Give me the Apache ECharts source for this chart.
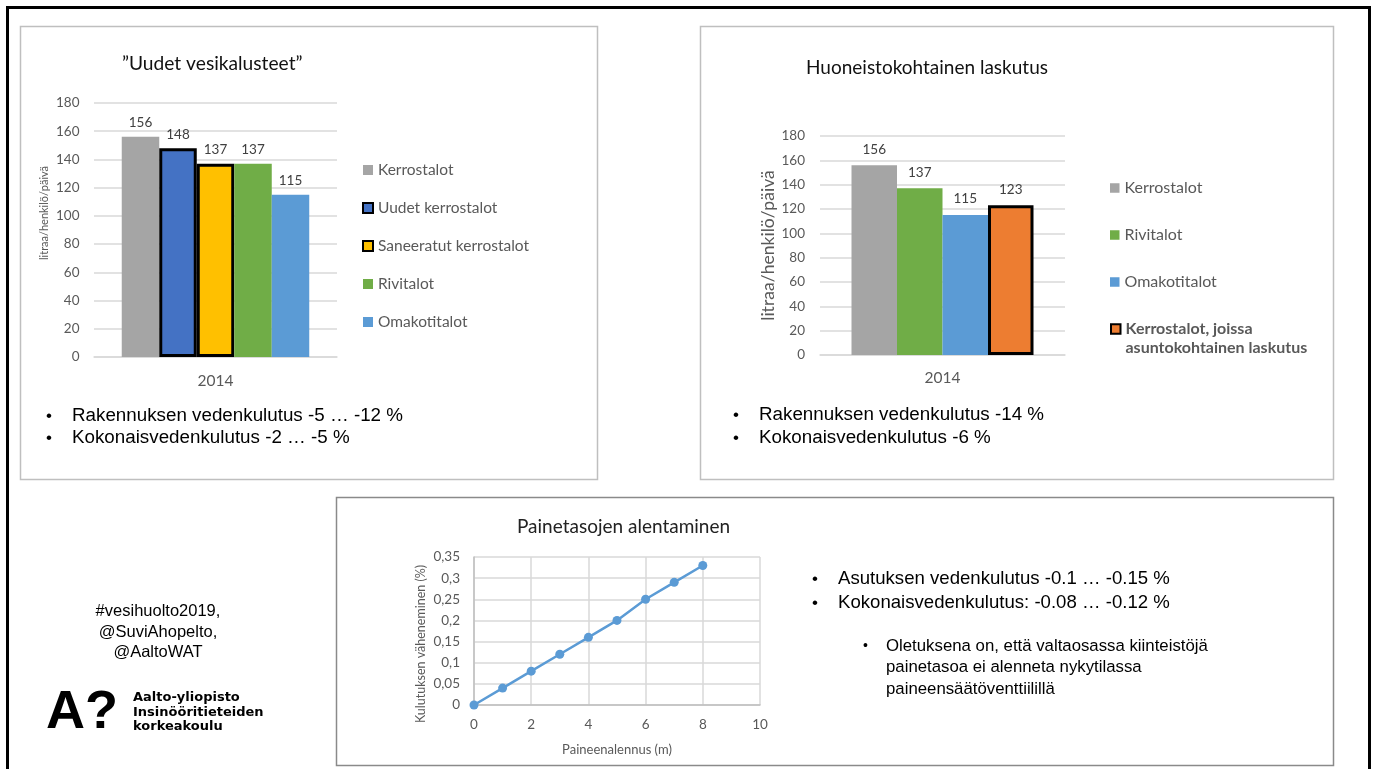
<!DOCTYPE html>
<html>
<head>
<meta charset="utf-8">
<title>Vedenkulutus</title>
<script src="https://cdn.jsdelivr.net/npm/echarts@6/dist/echarts.min.js"></script>
<style>
  html, body { margin: 0; padding: 0; background: #fff; }
  #main { width: 1375px; height: 769px; }
</style>
</head>
<body>
<div id="main"></div>
<script>
// --- Data -------------------------------------------------------------
// Chart 1: "Uudet vesikalusteet" (litraa/henkilö/päivä, 2014)
const fixtureYears = ['2014'];
const fixtureNames = ['Kerrostalot', 'Uudet kerrostalot', 'Saneeratut kerrostalot', 'Rivitalot', 'Omakotitalot'];
const fixtureValues = [156, 148, 137, 137, 115];

// Chart 2: Huoneistokohtainen laskutus
const billingYears = ['2014'];
const billingNames = ['Kerrostalot', 'Rivitalot', 'Omakotitalot', 'Kerrostalot, joissa asuntokohtainen laskutus'];
const billingValues = [156, 137, 115, 123];

// Chart 3: Painetasojen alentaminen
const pressureDrop = [0, 1, 2, 3, 4, 5, 6, 7, 8];            // m
const consumptionDecrease = [0, 0.04, 0.08, 0.12, 0.16, 0.2, 0.25, 0.29, 0.33]; // %

// --- Styles -----------------------------------------------------------
const C = {
  gray: '#A5A5A5', blue: '#4472C4', gold: '#FFC000',
  green: '#70AD47', sky: '#5B9BD5', orange: '#ED7D31'
};
const fixtureColors = [C.gray, C.blue, C.gold, C.green, C.sky];
const fixtureBordered = [false, true, true, false, false];
const billingColors = [C.gray, C.green, C.sky, C.orange];
const billingBordered = [false, false, false, true];

const FONT = 'Lato';
const SANS = 'Liberation Sans, Arial';
const TXT = '#595959';
const GRID = '#d9d9d9';
const commaNum = v => String(+(+v).toFixed(2)).replace('.', ',');

function barSeries(names, values, colors, bordered, axisIdx, width, labelDist) {
  return names.map((n, i) => ({
    type: 'bar',
    name: n,
    xAxisIndex: axisIdx,
    yAxisIndex: axisIdx,
    barWidth: width,
    barGap: '0%',
    data: [values[i]],
    itemStyle: bordered[i]
      ? { color: colors[i], borderColor: '#000', borderWidth: 3 }
      : { color: colors[i] },
    label: {
      show: true, position: 'top', distance: labelDist,
      color: '#404040', fontFamily: FONT, fontSize: 13.5
    }
  }));
}

function legendItem(name, bordered, extraText) {
  const d = { name: name, icon: 'rect' };
  if (bordered) d.itemStyle = { borderColor: '#000', borderWidth: 2 };
  if (extraText) d.textStyle = extraText;
  return d;
}

const catAxis = (idx, data, margin) => ({
  type: 'category', gridIndex: idx, data: data,
  axisLine: { lineStyle: { color: GRID, width: 1.5 } },
  axisTick: { show: false },
  axisLabel: { color: TXT, fontFamily: FONT, fontSize: 15.5, margin: margin }
});

const valAxis = (idx, name, nameSize, nameGap, namePad, labelMargin) => ({
  type: 'value', gridIndex: idx, min: 0, max: 180, interval: 20,
  name: name, nameLocation: 'middle', nameGap: nameGap, nameRotate: 90,
  nameTextStyle: { color: TXT, fontFamily: FONT, fontSize: nameSize, padding: namePad },
  axisLine: { show: false }, axisTick: { show: false },
  splitLine: { lineStyle: { color: GRID, width: 1.5 } },
  axisLabel: { color: TXT, fontFamily: FONT, fontSize: 13.5, margin: labelMargin }
});

// --- Text blocks drawn as graphics ------------------------------------
function txt(x, y, text, size, style) {
  return {
    type: 'text', x: x, y: y, silent: true,
    style: Object.assign({
      text: text, fill: '#000', fontFamily: SANS,
      fontSize: size, textVerticalAlign: 'middle'
    }, style || {})
  };
}
function box(x, y, w, h, stroke, lw) {
  return { type: 'rect', silent: true, shape: { x: x, y: y, width: w, height: h },
           style: { fill: 'none', stroke: stroke, lineWidth: lw } };
}

const BUL = 18.8;
const graphics = [
  box(7.5, 7.5, 1362, 800, '#000', 3),
  box(20.5, 26.5, 577, 453, '#bfbfbf', 1.5),
  box(700.5, 26.5, 633, 453, '#bfbfbf', 1.5),
  box(336.5, 497.5, 997, 268, '#8a8a8a', 1.5),

  // bullet notes, chart 1
  txt(46, 416, '•', 17), txt(72, 416, 'Rakennuksen vedenkulutus -5 … -12 %', BUL),
  txt(46, 438, '•', 17), txt(72, 438, 'Kokonaisvedenkulutus -2 … -5 %', BUL),
  // bullet notes, chart 2
  txt(733, 415, '•', 17), txt(759, 415, 'Rakennuksen vedenkulutus -14 %', BUL),
  txt(733, 438, '•', 17), txt(759, 438, 'Kokonaisvedenkulutus -6 %', BUL),
  // notes next to chart 3
  txt(812, 579, '•', 17), txt(838, 579, 'Asutuksen vedenkulutus -0.1 … -0.15 %', 18.6),
  txt(812, 603, '•', 17), txt(838, 603, 'Kokonaisvedenkulutus: -0.08 … -0.12 %', 18.6),
  txt(863, 646, '•', 14), txt(886, 646, 'Oletuksena on, että valtaosassa kiinteistöjä', 16.8),
  txt(886, 667, 'painetasoa ei alenneta nykytilassa', 16.8),
  txt(886, 689, 'paineensäätöventtiilillä', 16.8),

  // hashtags
  txt(158, 611, '#vesihuolto2019,', 16.5, { textAlign: 'center' }),
  txt(158, 632, '@SuviAhopelto,', 16.5, { textAlign: 'center' }),
  txt(158, 652, '@AaltoWAT', 16.5, { textAlign: 'center' }),

  // university mark
  txt(46, 713, 'A?', 54, { fontWeight: 'bold' }),
  txt(133, 698, 'Aalto-yliopisto', 13, { fontWeight: 'bold', fontFamily: 'DejaVu Sans' }),
  txt(133, 713, 'Insinööritieteiden', 13, { fontWeight: 'bold', fontFamily: 'DejaVu Sans' }),
  txt(133, 727, 'korkeakoulu', 13, { fontWeight: 'bold', fontFamily: 'DejaVu Sans' })
];

// --- Option -----------------------------------------------------------
const legendText = { color: TXT, fontFamily: FONT, fontSize: 16, lineHeight: 19 };

const option = {
  backgroundColor: '#fff',
  animation: false,
  title: [
    { text: '”Uudet vesikalusteet”', left: 117, top: 49,
      textStyle: { fontFamily: FONT, fontSize: 19.2, fontWeight: 'normal', color: '#111' } },
    { text: 'Huoneistokohtainen laskutus', left: 801, top: 53,
      textStyle: { fontFamily: FONT, fontSize: 19, fontWeight: 'normal', color: '#111' } },
    { text: 'Painetasojen alentaminen', left: 512, top: 512,
      textStyle: { fontFamily: FONT, fontSize: 19, fontWeight: 'normal', color: '#222' } }
  ],
  legend: [
    { orient: 'vertical', left: 357, top: 156, itemWidth: 10, itemHeight: 10, itemGap: 20,
      data: fixtureNames.map((n, i) => legendItem(n, fixtureBordered[i])),
      textStyle: { color: TXT, fontFamily: FONT, fontSize: 15.5, lineHeight: 18 }, selectedMode: false },
    { orient: 'vertical', left: 1105, top: 173.5, itemWidth: 9.5, itemHeight: 9.5, itemGap: 28,
      data: billingNames.slice(0, 3).map((n, i) => legendItem(n, billingBordered[i])),
      textStyle: legendText, selectedMode: false },
    // two-line entry: the leading blank line keeps the icon level with the first text line
    { orient: 'vertical', left: 1105, top: 295.5, itemWidth: 9.5, itemHeight: 9.5,
      data: [legendItem(billingNames[3], true, { fontWeight: 'bold' })],
      formatter: () => ' \nKerrostalot, joissa\nasuntokohtainen laskutus',
      textStyle: legendText, selectedMode: false }
  ],
  grid: [
    { left: 94, top: 103, width: 243, height: 254 },
    { left: 820, top: 136, width: 245, height: 219 },
    { left: 474, top: 557, width: 286, height: 148 }
  ],
  xAxis: [
    catAxis(0, fixtureYears, 16),
    catAxis(1, billingYears, 15),
    { type: 'value', gridIndex: 2, min: 0, max: 10, interval: 2,
      name: 'Paineenalennus (m)', nameLocation: 'middle', nameGap: 38,
      nameTextStyle: { color: TXT, fontFamily: FONT, fontSize: 13 },
      axisLine: { show: true, lineStyle: { color: '#bfbfbf', width: 1.5 } },
      axisTick: { show: false },
      splitLine: { show: true, lineStyle: { color: GRID, width: 1.5 } },
      axisLabel: { color: TXT, fontFamily: FONT, fontSize: 13.5, margin: 13 } }
  ],
  yAxis: [
    valAxis(0, 'litraa/henkilö/päivä', 11, 44, [0, 0, 0, 34], 14.5),
    valAxis(1, 'litraa/henkilö/päivä', 17.6, 43, [0, 0, 0, 0], 15),
    { type: 'value', gridIndex: 2, min: 0, max: 0.35, interval: 0.05,
      name: 'Kulutuksen väheneminen (%)', nameLocation: 'middle', nameGap: 47, nameRotate: 90,
      nameTextStyle: { color: TXT, fontFamily: FONT, fontSize: 12.5, padding: [0, 26, 0, 0] },
      axisLine: { show: true, lineStyle: { color: '#bfbfbf', width: 1.5 } },
      axisTick: { show: false },
      splitLine: { show: true, lineStyle: { color: GRID, width: 1.5 } },
      axisLabel: { color: TXT, fontFamily: FONT, fontSize: 13.5, margin: 14, formatter: commaNum } }
  ],
  series: [
    ...barSeries(fixtureNames, fixtureValues, fixtureColors, fixtureBordered, 0, 37.5, 7),
    ...barSeries(billingNames, billingValues, billingColors, billingBordered, 1, 45.5, 9),
    { type: 'line', name: 'Kulutuksen väheneminen', xAxisIndex: 2, yAxisIndex: 2,
      data: pressureDrop.map((x, i) => [x, consumptionDecrease[i]]),
      symbol: 'circle', symbolSize: 9, showAllSymbol: true,
      lineStyle: { color: C.sky, width: 2.5 },
      itemStyle: { color: C.sky } }
  ],
  graphic: graphics
};

const chart = echarts.init(document.getElementById('main'), null, { renderer: 'canvas' });
chart.setOption(option);
</script>
</body>
</html>
